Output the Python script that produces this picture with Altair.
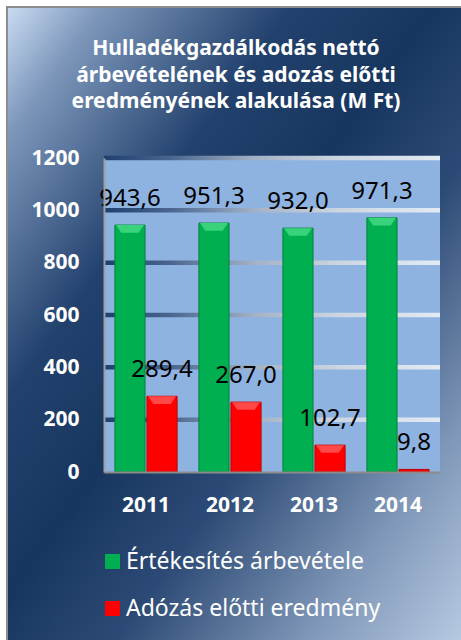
import altair as alt
import pandas as pd

years = ["2011", "2012", "2013", "2014"]
revenue = [943.6, 951.3, 932.0, 971.3]
profit = [289.4, 267.0, 102.7, 9.8]
series_names = ["Értékesítés árbevétele", "Adózás előtti eredmény"]
series_colors = ["#00B050", "#FF0000"]
series_strokes = ["#00803A", "#C00000"]
bevel_colors = ["#38D37B", "#FF4848"]
y_ticks = [0, 200, 400, 600, 800, 1000, 1200]
grid_values = [200, 400, 600, 800, 1000, 1200]
title_lines = ["Hulladékgazdálkodás nettó",
               "árbevételének és adozás előtti",
               "eredményének alakulása (M Ft)"]

W, H = 336, 314
PAD = {"left": 104, "top": 158, "right": 21, "bottom": 168}
FONT = "Noto Sans"

rows = []
for i, y in enumerate(years):
    rows.append({"year": y, "series": series_names[0], "value": revenue[i]})
    rows.append({"year": y, "series": series_names[1], "value": profit[i]})
df = pd.DataFrame(rows)
df["label"] = df["value"].map(lambda v: f"{v:.1f}".replace(".", ","))

grid_df = pd.DataFrame({"v": grid_values})
one = pd.DataFrame({"k": [0]})

bg_grad = {
    "gradient": "linear", "x1": 0, "y1": 0, "x2": 1, "y2": 1,
    "stops": [
        {"offset": 0.0, "color": "#CADCF2"},
        {"offset": 0.1, "color": "#7D97BB"},
        {"offset": 0.3, "color": "#22416D"},
        {"offset": 0.45, "color": "#17365F"},
        {"offset": 0.6, "color": "#2C4A75"},
        {"offset": 0.8, "color": "#7F97B8"},
        {"offset": 1.0, "color": "#C2D4EA"},
    ],
}
grid_grad = {
    "gradient": "linear", "x1": 0, "y1": 0, "x2": 1, "y2": 0,
    "stops": [
        {"offset": 0.0, "color": "#1F3F6F"},
        {"offset": 0.2, "color": "#4A6690"},
        {"offset": 0.45, "color": "#A4B2C6"},
        {"offset": 0.7, "color": "#CCD6E2"},
        {"offset": 1.0, "color": "#E2EAF3"},
    ],
}

background = alt.Chart(one).mark_rect(
    fill=bg_grad, stroke="#8C8C8C", strokeWidth=2
).encode(
    x=alt.value(-PAD["left"] + 7), x2=alt.value(W + PAD["right"] + 20),
    y=alt.value(-PAD["top"] + 7), y2=alt.value(H + PAD["bottom"] + 20),
)

plot_bg = alt.Chart(one).mark_rect(fill="#8FB3E0").encode(
    x=alt.value(0), x2=alt.value(W), y=alt.value(0), y2=alt.value(H)
)

yscale = alt.Scale(domain=[0, 1200], nice=False)
yaxis = alt.Axis(title=None, values=y_ticks, format="d", ticks=False, grid=False,
                 domain=True, domainColor="#A0A0A0", domainWidth=2,
                 labelColor="white", labelFont=FONT, labelFontSize=21,
                 labelFontWeight="bold", labelPadding=25, zindex=1)

grid = alt.Chart(grid_df).mark_tick(
    fill=grid_grad, thickness=4.5, size=W, orient="horizontal", opacity=1
).encode(y=alt.Y("v:Q", scale=yscale, axis=yaxis))

xenc = alt.X("year:N", sort=years, scale=alt.Scale(paddingInner=0.26, paddingOuter=0.13),
             axis=alt.Axis(title=None, labelAngle=0, ticks=False, domain=True,
                           domainColor="#8C8C8C", domainWidth=2,
                           labelColor="white", labelFont=FONT, labelFontSize=21,
                           labelFontWeight="bold", labelPadding=22, zindex=1))
xoff = alt.XOffset("series:N", sort=series_names, scale=alt.Scale(paddingInner=0.06))

bars = alt.Chart(df).mark_bar(strokeWidth=1).encode(
    x=xenc,
    xOffset=xoff,
    y=alt.Y("value:Q", scale=yscale, axis=yaxis),
    color=alt.Color("series:N", sort=series_names,
                    scale=alt.Scale(domain=series_names, range=series_colors),
                    legend=alt.Legend(title=None, orient="none", legendX=-3, legendY=392,
                                      direction="vertical", symbolType="square",
                                      symbolSize=225, symbolOpacity=1,
                                      symbolStrokeWidth=0, labelLimit=0,
                                      labelColor="white", labelFont=FONT,
                                      labelFontSize=23, labelOffset=2,
                                      rowPadding=23, padding=0)),
    stroke=alt.Stroke("series:N", sort=series_names,
                      scale=alt.Scale(domain=series_names, range=series_strokes),
                      legend=None),
)

bevel = alt.Chart(df).transform_filter("datum.value > 50").mark_point(
    filled=True, shape="M -1 0 L 1 0 L 0.62 0.55 L -0.62 0.55 Z",
    size=784, opacity=1, strokeWidth=0
).encode(
    x=alt.X("year:N", sort=years),
    xOffset=xoff,
    y=alt.Y("value:Q", scale=yscale, axis=yaxis),
    fill=alt.Fill("series:N", sort=series_names,
                  scale=alt.Scale(domain=series_names, range=bevel_colors),
                  legend=None),
)

labels = alt.Chart(df).mark_text(
    font=FONT, fontSize=24, color="black", dy=-19, baseline="alphabetic"
).encode(
    x=alt.X("year:N", sort=years),
    xOffset=xoff,
    y=alt.Y("value:Q", scale=yscale, axis=yaxis),
    text="label:N",
)

chart = alt.layer(background, plot_bg, grid, bars, bevel, labels).properties(
    width=W, height=H,
    padding=PAD,
    autosize=alt.AutoSizeParams(type="none"),
    title=alt.TitleParams(text=title_lines, color="white", font=FONT, fontSize=21,
                          fontWeight="bold", anchor="middle", frame="group",
                          dx=-36, dy=106, offset=0, lineHeight=26.5),
).configure_view(stroke=None).configure(background="white")

chart.save("out.html", embed_options={"renderer": "svg", "actions": False})
